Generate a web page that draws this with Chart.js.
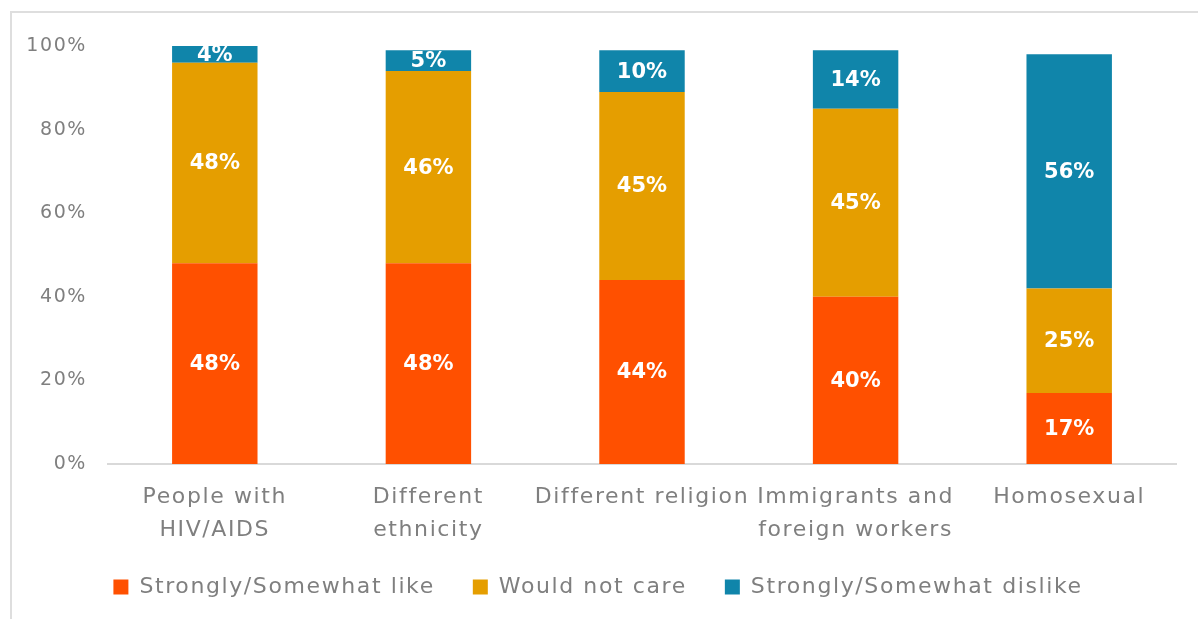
<!DOCTYPE html>
<html>
<head>
<meta charset="utf-8">
<script src="https://cdn.jsdelivr.net/npm/chart.js@4"></script>
<style>
  html, body { margin: 0; padding: 0; background: #fff; overflow: hidden; }
  #page { position: absolute; left: 0; top: 0; width: 1198px; height: 619px; overflow: hidden; }
  #wrap { position: absolute; left: 0; top: 0; width: 1222px; height: 619px; }
</style>
</head>
<body>
<div id="page">
  <div id="wrap"><canvas id="acceptChart"></canvas></div>
</div>
<script>
const categories = [
  ['People with', 'HIV/AIDS'],
  ['Different', 'ethnicity'],
  'Different religion',
  ['Immigrants and', 'foreign workers'],
  'Homosexual'
];
const seriesNames = ['Strongly/Somewhat like', 'Would not care', 'Strongly/Somewhat dislike'];
const likeValues = [48, 48, 44, 40, 17];
const noCareValues = [48, 46, 45, 45, 25];
const dislikeValues = [4, 5, 10, 14, 56];
const yTicks = [0, 20, 40, 60, 80, 100];

const colours = ['#FF5000', '#E59E00', '#1085AA'];
const fontFamily = "'DejaVu Sans', sans-serif";
const grey = '#7f7f7f';
const spacing = '1.6px';

const segmentLabels = {
  id: 'segmentLabels',
  afterInit(chart) {
    // keep the legend strip short so it sits close under the category labels
    const legend = chart.legend;
    const fit = legend.fit;
    legend.fit = function () {
      fit.call(this);
      this.height = 81;
    };
  },
  // wider letter spacing for axis and legend text (canvas resets drop it)
  beforeLayout(chart) { chart.ctx.letterSpacing = spacing; },
  beforeDraw(chart) { chart.ctx.letterSpacing = spacing; },
  // white percentage labels centred on each bar segment
  afterDatasetsDraw(chart) {
    const ctx = chart.ctx;
    ctx.save();
    ctx.letterSpacing = '0px';
    ctx.fillStyle = '#fff';
    ctx.font = "bold 21px " + fontFamily;
    ctx.textAlign = 'center';
    ctx.textBaseline = 'middle';
    chart.data.datasets.forEach((ds, i) => {
      chart.getDatasetMeta(i).data.forEach((bar, j) => {
        const mid = (bar.y + bar.base) / 2;
        ctx.fillText(ds.data[j] + '%', bar.x, mid + 1);
      });
    });
    ctx.restore();
  },
  // light frame along the left edge and top
  afterDraw(chart) {
    const ctx = chart.ctx;
    ctx.save();
    ctx.strokeStyle = '#dedede';
    ctx.lineWidth = 2;
    ctx.beginPath();
    ctx.moveTo(11, chart.height + 5);
    ctx.lineTo(11, 12);
    ctx.lineTo(chart.width + 5, 12);
    ctx.stroke();
    ctx.beginPath();
    ctx.restore();
  }
};

const ctx = document.getElementById('acceptChart').getContext('2d');
new Chart(ctx, {
  type: 'bar',
  data: {
    labels: categories,
    datasets: [likeValues, noCareValues, dislikeValues].map((vals, i) => ({
      label: seriesNames[i],
      data: vals,
      backgroundColor: colours[i],
      barPercentage: 0.8,
      categoryPercentage: 0.5
    }))
  },
  options: {
    responsive: true,
    maintainAspectRatio: false,
    animation: false,
    layout: { padding: { top: 46, right: 46, left: 20, bottom: 0 } },
    plugins: {
      tooltip: { enabled: false },
      legend: {
        position: 'bottom',
        labels: {
          boxWidth: 15,
          boxHeight: 15,
          padding: 38,
          color: grey,
          font: { family: fontFamily, size: 22 }
        }
      }
    },
    scales: {
      x: {
        stacked: true,
        afterFit(scale) {
          scale.height = 74;
          // two-line labels run past the short axis box, so don't clip them
          scale._computeLabelArea = () => undefined;
        },
        grid: { display: false, drawTicks: false },
        border: { display: true, color: '#d9d9d9', width: 2 },
        ticks: {
          color: grey,
          padding: 17,
          maxRotation: 0,
          autoSkip: false,
          font: { family: fontFamily, size: 22, lineHeight: 1.5 }
        }
      },
      y: {
        stacked: true,
        min: 0,
        max: 100,
        afterFit(scale) { scale.width = 88; },
        afterBuildTicks(scale) { scale.ticks = yTicks.map(v => ({ value: v })); },
        grid: { display: false, drawTicks: false },
        border: { display: false },
        ticks: {
          color: grey,
          padding: 21,
          font: { family: fontFamily, size: 19 },
          callback: v => v + '%'
        }
      }
    }
  },
  plugins: [segmentLabels]
});
</script>
</body>
</html>
